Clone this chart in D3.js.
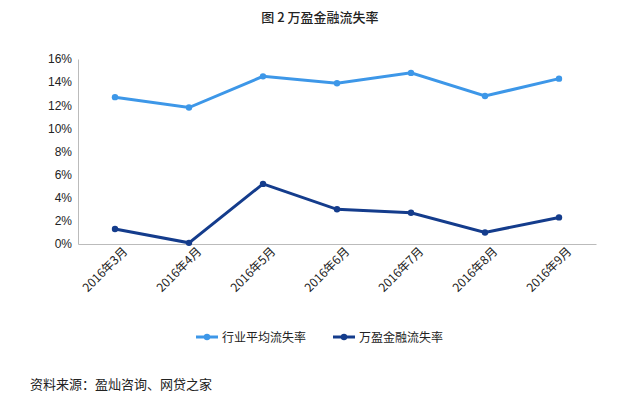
<!DOCTYPE html>
<html><head><meta charset="utf-8">
<script src="https://cdn.jsdelivr.net/npm/d3@7"></script>
<style>body{margin:0;background:#fff;font-family:"Noto Sans CJK SC","Microsoft YaHei",sans-serif}</style>
</head><body><svg id="c" width="640" height="411"></svg>
<script>
const categories=["2016年3月","2016年4月","2016年5月","2016年6月","2016年7月","2016年8月","2016年9月"];
const industry=[12.7,11.8,14.5,13.9,14.8,12.8,14.3];
const wanying=[1.3,0.1,5.2,3.0,2.7,1.0,2.3];
const yTicks=[0,2,4,6,8,10,12,14,16];
const seriesNames=["行业平均流失率","万盈金融流失率"];
const colors=["#3d97e8","#143c8c"];

const svg=d3.select("#c");
const f='"Noto Sans CJK SC",sans-serif';
svg.append("text").attr("x",320).attr("y",22).attr("text-anchor","middle").attr("font-size",13).attr("font-weight","500").attr("font-family",f).attr("fill","#222").text("图 2  万盈金融流失率");
const x=d3.scaleBand().domain(categories).range([78,596]);
const y=d3.scaleLinear().domain([0,16]).range([244,59]);
const ya=svg.append("g").attr("transform","translate(78,0)").call(d3.axisLeft(y).tickValues(yTicks).tickFormat(d=>d+"%").tickSize(0).tickPadding(6));
ya.select(".domain").attr("stroke","#bbb");
ya.selectAll("text").attr("font-size",12).attr("font-family","Arial,sans-serif").attr("fill","#222");
const xa=svg.append("g").attr("transform","translate(0,244)").call(d3.axisBottom(x).tickSize(0).tickPadding(8));
xa.select(".domain").attr("stroke","#bbb");
xa.selectAll("text").attr("font-size",12).attr("font-family",f).attr("fill","#222")
  .attr("text-anchor","end").attr("dx","0.3em").attr("dy","0.6em").attr("transform","rotate(-45)");
[industry,wanying].forEach((s,i)=>{
  const line=d3.line().x((d,j)=>x(categories[j])+x.bandwidth()/2).y(d=>y(d));
  svg.append("path").datum(s).attr("d",line).attr("fill","none").attr("stroke",colors[i]).attr("stroke-width",3);
  svg.selectAll(null).data(s).enter().append("circle").attr("cx",(d,j)=>x(categories[j])+x.bandwidth()/2).attr("cy",d=>y(d)).attr("r",3.2).attr("fill",colors[i]);
});
const lx=[196,333];
seriesNames.forEach((n,i)=>{
  const g=svg.append("g").attr("transform",`translate(${lx[i]},337)`);
  g.append("line").attr("x1",0).attr("x2",22).attr("stroke",colors[i]).attr("stroke-width",3);
  g.append("circle").attr("cx",11).attr("r",3.2).attr("fill",colors[i]);
  g.append("text").attr("x",26).attr("y",4.5).attr("font-size",12).attr("font-family",f).attr("fill","#222").text(n);
});
svg.append("text").attr("x",30).attr("y",389).attr("font-size",13).attr("font-family",f).attr("fill","#222").text("资料来源：盈灿咨询、网贷之家");
</script></body></html>
